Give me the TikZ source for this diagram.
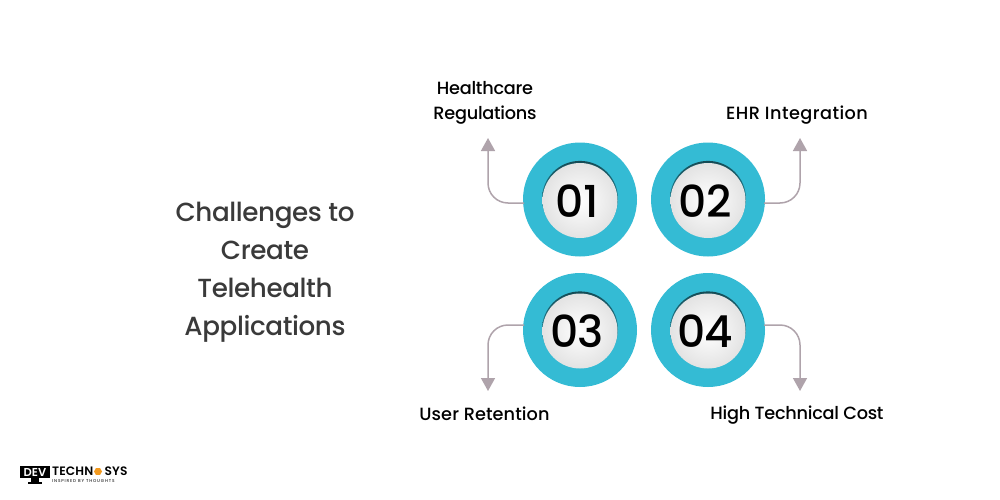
\documentclass[tikz,border=0pt]{standalone}
\usepackage{fontspec}
\setmainfont{Poppins}[UprightFont=* Medium,BoldFont=* SemiBold]
\usetikzlibrary{arrows.meta,shapes.geometric}
\definecolor{ringc}{HTML}{34BBD4}
\definecolor{arrc}{HTML}{AFA3AB}
\definecolor{titlec}{HTML}{3A3A3A}
\definecolor{orangec}{HTML}{F39A1F}
\tikzset{
  x=1pt,y=-1pt,
  ring/.style={circle,fill=ringc,minimum size=114pt,inner sep=0pt},
  numtxt/.style={font=\fontsize{44}{44}\selectfont\addfontfeatures{LetterSpace=-2},text=black,inner sep=0pt},
  lab/.style={font=\fontsize{17.7}{25}\selectfont\addfontfeatures{LetterSpace=#1},text=black,align=center,inner sep=0pt},
  lab/.default=-1.5,
  ttl/.style={font=\fontsize{26.2}{38}\selectfont\addfontfeatures{LetterSpace=-1.5},text=titlec,align=center,inner sep=0pt},
  conn/.style={draw=arrc,line width=1.5pt,rounded corners=20pt,-{Triangle[width=14pt,length=13pt]}},
  logotxt/.style={inner sep=0pt,anchor=west,text=black,font=\bfseries\fontsize{12.2}{12.2}\selectfont\addfontfeatures{LetterSpace=1}},
}
\newcommand{\disc}[3]{%
  \node[ring] (#1) at (#2) {};
  \shade[top color=black!60!ringc,bottom color=ringc] (#2) ++(0,-0.6) circle (38);
  \shade[inner color=white,outer color=black!11] (#2) ++(0,1) circle (37.5);
  \node[numtxt,xshift=-3pt,yshift=-1.3pt] at (#2) {#3};
}
\begin{document}
\begin{tikzpicture}
\useasboundingbox (0,0) rectangle (1000,500);
\fill[white] (0,0) rectangle (1000,500);
\node[ttl] (title) at (265,272.5) {Challenges to\\Create\\Telehealth\\Applications};
\disc{c1}{580,199.5}{01}
\disc{c2}{708,199.5}{02}
\disc{c3}{580,330}{03}
\disc{c4}{708,330}{04}
\coordinate (a1) at (488,138);
\coordinate (a2) at (800,138);
\coordinate (a3) at (488,391);
\coordinate (a4) at (800,391);
\coordinate (s1) at (524,203);
\coordinate (s2) at (764,203);
\coordinate (s3) at (524,325);
\coordinate (s4) at (764,325);
\draw[conn] (s1) -| (a1);
\draw[conn] (s2) -| (a2);
\draw[conn] (s3) -| (a3);
\draw[conn] (s4) -| (a4);
\node[lab] (l1) at (485,103) {Healthcare\\Regulations};
\node[lab=2.5] (l2) at (797,115) {EHR Integration};
\node[lab=0.5] (l3) at (484.5,413.5) {User Retention};
\node[lab] (l4) at (797,415) {High Technical Cost};
% logo
\fill[black] (20,466) rectangle (50,478);
\fill[black] (31,478) rectangle (39,481.5);
\fill[black] (28,481.5) rectangle (42,483.5);
\node[inner sep=0pt,text=white,font=\bfseries\fontsize{11.5}{11.5}\selectfont] (ld) at (35,472.2) {DEV};
\node[logotxt] (lt) at (52,471) {TECHN};
\node[regular polygon,regular polygon sides=6,fill=orangec,inner sep=0pt,minimum size=8pt] (lh) at (98,471.5) {};
\node[logotxt] (ls) at (104.5,471) {SYS};
\node[inner sep=0pt,anchor=west,text=black!85,font=\fontsize{4.2}{4.2}\selectfont\addfontfeatures{LetterSpace=20}] (lg) at (52,480.6) {INSPIRED BY THOUGHTS};
\end{tikzpicture}
\end{document}
